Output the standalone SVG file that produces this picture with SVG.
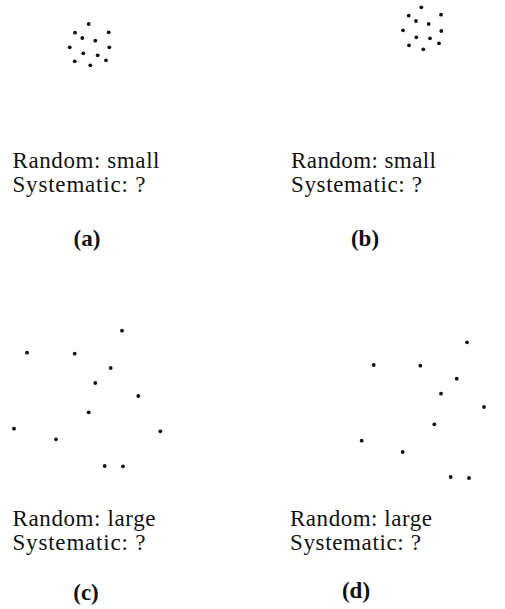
<svg xmlns="http://www.w3.org/2000/svg" width="505" height="609" viewBox="0 0 505 609">
<style>
.t{font-family:"Liberation Serif","Times New Roman",serif;font-size:23px;fill:#111}
.l{font-family:"Liberation Serif","Times New Roman",serif;font-size:23px;font-weight:bold;fill:#111;text-anchor:middle}
.d circle{fill:#111}
</style>
<rect width="505" height="609" fill="#fff"/>
<g id="panel-a">
<g class="d">
<circle cx="88.7" cy="24" r="1.9"/><circle cx="75" cy="32.7" r="1.9"/><circle cx="108.7" cy="32.3" r="1.9"/><circle cx="82.3" cy="38" r="1.9"/><circle cx="95.3" cy="40.7" r="1.9"/><circle cx="69.7" cy="47.3" r="1.9"/><circle cx="109.3" cy="47.3" r="1.9"/><circle cx="83.3" cy="53.3" r="1.9"/><circle cx="97.7" cy="55.3" r="1.9"/><circle cx="106" cy="60.3" r="1.9"/><circle cx="74.7" cy="61.3" r="1.9"/><circle cx="90.3" cy="65.3" r="1.9"/>
</g>
<text class="t" x="12.5" y="168" textLength="147" lengthAdjust="spacing">Random: small</text>
<text class="t" x="12.5" y="192" textLength="133" lengthAdjust="spacing">Systematic: ?</text>
<text class="l" x="87" y="246">(a)</text>
</g>
<g id="panel-b">
<g class="d">
<circle cx="421.3" cy="7.3" r="1.9"/><circle cx="408.7" cy="15.7" r="1.9"/><circle cx="441" cy="14.7" r="1.9"/><circle cx="416" cy="21" r="1.9"/><circle cx="428.7" cy="24" r="1.9"/><circle cx="403" cy="30.3" r="1.9"/><circle cx="441.3" cy="31" r="1.9"/><circle cx="416.3" cy="37.3" r="1.9"/><circle cx="430" cy="38.3" r="1.9"/><circle cx="439" cy="43.3" r="1.9"/><circle cx="409" cy="45.3" r="1.9"/><circle cx="423.3" cy="49.3" r="1.9"/>
</g>
<text class="t" x="291" y="168" textLength="145" lengthAdjust="spacing">Random: small</text>
<text class="t" x="291" y="192" textLength="131" lengthAdjust="spacing">Systematic: ?</text>
<text class="l" x="365" y="246">(b)</text>
</g>
<g id="panel-c">
<g class="d">
<circle cx="122" cy="330.7" r="1.9"/><circle cx="27" cy="352.7" r="1.9"/><circle cx="74.7" cy="353.7" r="1.9"/><circle cx="110.7" cy="368" r="1.9"/><circle cx="95.3" cy="383" r="1.9"/><circle cx="138.3" cy="396" r="1.9"/><circle cx="88.7" cy="412.3" r="1.9"/><circle cx="14" cy="428.7" r="1.9"/><circle cx="160.3" cy="431.3" r="1.9"/><circle cx="56" cy="439.3" r="1.9"/><circle cx="104.7" cy="466" r="1.9"/><circle cx="123" cy="466.3" r="1.9"/>
</g>
<text class="t" x="12.5" y="526" textLength="143" lengthAdjust="spacing">Random: large</text>
<text class="t" x="12.5" y="550" textLength="133" lengthAdjust="spacing">Systematic: ?</text>
<text class="l" x="86" y="600">(c)</text>
</g>
<g id="panel-d">
<g class="d">
<circle cx="467" cy="342.3" r="1.9"/><circle cx="373.7" cy="365" r="1.9"/><circle cx="420.3" cy="365.7" r="1.9"/><circle cx="456.7" cy="378.7" r="1.9"/><circle cx="441" cy="393.7" r="1.9"/><circle cx="484" cy="407" r="1.9"/><circle cx="434.3" cy="424.3" r="1.9"/><circle cx="361.7" cy="440.7" r="1.9"/><circle cx="402.7" cy="452" r="1.9"/><circle cx="450.7" cy="477" r="1.9"/><circle cx="469" cy="478" r="1.9"/>
</g>
<text class="t" x="290" y="526" textLength="142" lengthAdjust="spacing">Random: large</text>
<text class="t" x="290" y="550" textLength="131" lengthAdjust="spacing">Systematic: ?</text>
<text class="l" x="356" y="598">(d)</text>
</g>
</svg>
